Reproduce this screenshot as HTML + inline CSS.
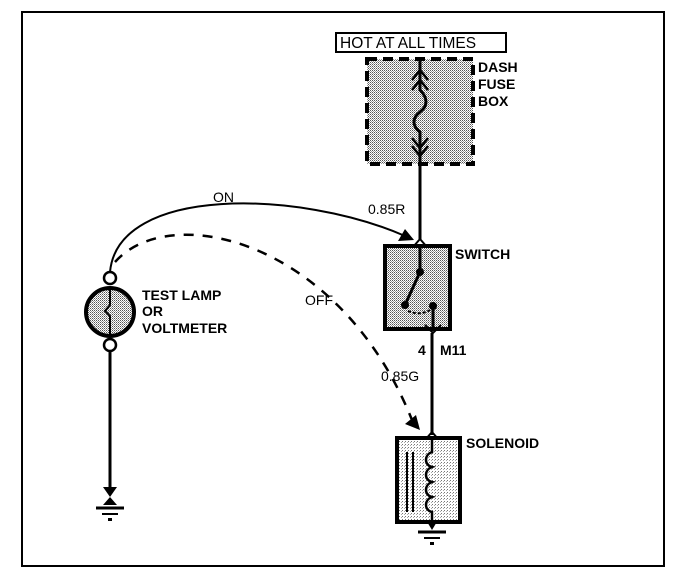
<!DOCTYPE html>
<html><head><style>
html,body{margin:0;padding:0;background:#fff;}
svg{display:block}
text{font-family:"Liberation Sans",sans-serif;font-weight:bold;font-size:14px;fill:#000}
</style></head><body>
<svg width="688" height="582" viewBox="0 0 688 582" xmlns="http://www.w3.org/2000/svg">
<defs>
<pattern id="dots" width="2" height="2" patternUnits="userSpaceOnUse"><rect width="2" height="2" fill="#fff"/><rect width="1" height="1" fill="#555"/><rect x="1" y="1" width="1" height="1" fill="#999"/></pattern>
<pattern id="dots2" width="3" height="3" patternUnits="userSpaceOnUse"><rect width="3" height="3" fill="#fff"/><rect width="1" height="1" fill="#777"/><rect x="2" y="1" width="1" height="1" fill="#aaa"/></pattern>
</defs>
<rect x="22" y="12" width="642" height="554" fill="none" stroke="#000" stroke-width="2"/>
<rect x="336" y="33" width="170" height="19" fill="#fff" stroke="#000" stroke-width="2"/>
<text x="340" y="48" style="font-weight:normal;font-size:15.5px">HOT AT ALL TIMES</text>
<rect x="367" y="59" width="106" height="105" fill="url(#dots)" stroke="#000" stroke-width="4" stroke-dasharray="10,6"/>
<path d="M420,60 V90 C428,98 428,106 420,112 C412,118 412,126 420,132 V200" fill="none" stroke="#000" stroke-width="3"/>
<path d="M412,80 L420,70 L428,80 M412,90 L420,80 L428,90 M412,138 L420,148 L428,138 M412,146 L420,156 L428,146" fill="none" stroke="#000" stroke-width="2.5"/>
<line x1="420" y1="160" x2="420" y2="240" stroke="#000" stroke-width="3"/>
<text x="478" y="72">DASH</text><text x="478" y="89">FUSE</text><text x="478" y="106">BOX</text>
<text x="368" y="214" style="font-weight:normal">0.85R</text>
<path d="M413,247 L420,239 L427,247" fill="none" stroke="#000" stroke-width="2"/>
<rect x="385" y="246" width="65" height="83" fill="url(#dots)" stroke="#000" stroke-width="4"/>
<line x1="420" y1="246" x2="420" y2="272" stroke="#000" stroke-width="3"/>
<line x1="420" y1="272" x2="405" y2="305" stroke="#000" stroke-width="3"/>
<circle cx="420" cy="272" r="4"/><circle cx="405" cy="305" r="4"/><circle cx="433" cy="306" r="4"/>
<path d="M408,311 Q420,316 430,310" fill="none" stroke="#000" stroke-width="2" stroke-dasharray="3,2"/>
<line x1="433" y1="306" x2="433" y2="330" stroke="#000" stroke-width="3"/>
<path d="M425,325 L433,333 L441,325" fill="none" stroke="#000" stroke-width="2"/>
<text x="455" y="259">SWITCH</text>
<text x="418" y="355">4</text><text x="440" y="355">M11</text>
<text x="381" y="381" style="font-weight:normal">0.85G</text>
<line x1="432" y1="333" x2="432" y2="435" stroke="#000" stroke-width="3"/>
<path d="M425,440 L432,432 L439,440" fill="none" stroke="#000" stroke-width="2"/>
<rect x="397" y="438" width="63" height="84" fill="url(#dots2)" stroke="#000" stroke-width="4"/>
<line x1="407" y1="452" x2="407" y2="512" stroke="#000" stroke-width="2"/>
<line x1="413" y1="452" x2="413" y2="512" stroke="#000" stroke-width="2"/>
<path d="M432,440 V452 c-8,3 -8,13 0,15 c-8,3 -8,13 0,15 c-8,3 -8,13 0,15 c-8,3 -8,13 0,15 V525" fill="none" stroke="#000" stroke-width="2.5"/>
<text x="466" y="448">SOLENOID</text>
<path d="M426,520 L438,520 L432,530 Z"/>
<line x1="418" y1="532" x2="446" y2="532" stroke="#000" stroke-width="3"/>
<line x1="424" y1="538" x2="440" y2="538" stroke="#000" stroke-width="2"/>
<rect x="430" y="542" width="4" height="3"/>
<circle cx="110" cy="312" r="24" fill="url(#dots)" stroke="#000" stroke-width="4"/>
<path d="M110,288 V305 L105,311 L110,316 V336" fill="none" stroke="#000" stroke-width="2"/>
<circle cx="110" cy="278" r="6" fill="#fff" stroke="#000" stroke-width="2.5"/>
<circle cx="110" cy="345" r="6" fill="#fff" stroke="#000" stroke-width="2.5"/>
<text x="142" y="300">TEST LAMP</text><text x="142" y="316">OR</text><text x="142" y="333">VOLTMETER</text>
<line x1="110" y1="351" x2="110" y2="490" stroke="#000" stroke-width="3"/>
<path d="M103,487 L117,487 L110,497 Z"/>
<path d="M103,505 L117,505 L110,497 Z"/>
<line x1="96" y1="508" x2="124" y2="508" stroke="#000" stroke-width="3"/>
<line x1="102" y1="514" x2="118" y2="514" stroke="#000" stroke-width="2"/>
<rect x="108" y="518" width="4" height="3"/>
<path d="M110,272 C118,185 300,190 405,236" fill="none" stroke="#000" stroke-width="2"/>
<path d="M414,240 L398,241 L405,229 Z"/>
<text x="213" y="202" style="font-weight:normal">ON</text>
<path d="M115,262 C170,200 340,240 412,420" fill="none" stroke="#000" stroke-width="2.5" stroke-dasharray="10,9"/>
<path d="M420,430 L405,424 L416,415 Z"/>
<text x="305" y="305" style="font-weight:normal">OFF</text>
</svg>
</body></html>
